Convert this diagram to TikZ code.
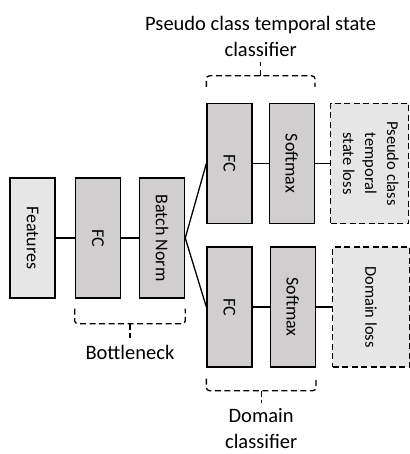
\documentclass[tikz,border=0pt]{standalone}
\usepackage{fontspec}
\setmainfont{Carlito}
\usetikzlibrary{positioning,calc}
\definecolor{boxgray}{HTML}{D0CECE}
\definecolor{lightgray}{HTML}{E7E6E6}
\tikzset{
    node distance=18pt, % gap between neighbouring boxes
    }

\begin{document}
\begin{tikzpicture}[x=1pt,y=-1pt,
layerbox/.style={rectangle, draw=black, line width=1.3pt, fill=boxgray, minimum width=45pt, minimum height=120pt, inner sep=0pt, font=\fontsize{18}{22}\selectfont},
inbox/.style={layerbox, fill=lightgray},
lossbox/.style={layerbox, fill=lightgray, dash pattern=on 6pt off 3.5pt, minimum width=78pt, font=\fontsize{16.5}{22}\selectfont},
brace/.style={line width=1.3pt, dash pattern=on 6pt off 3.5pt, rounded corners=3pt},
caption/.style={align=center, font=\fontsize{20.5}{26}\selectfont},
]
\useasboundingbox (0,0) rectangle (409,454);

\node[inbox] (feat) at (32.5,238) {\rotatebox{-90}{Features}};
\node[layerbox] (fc) [right=19pt of feat] {\rotatebox{-90}{FC}};
\node[layerbox] (bn) [right=of fc] {\rotatebox{-90}{Batch Norm}};

\node[layerbox] (fcT) at (229.5,163.5) {\rotatebox{-90}{FC}};
\node[layerbox] (smT) [right=16pt of fcT] {\rotatebox{-90}{Softmax}};
\node[lossbox] (lossT) [right=15pt of smT] {\rotatebox{-90}{\begin{tabular}{@{}c@{}}Pseudo class\\temporal\\state loss\end{tabular}}};

\node[layerbox] (fcB) at (229.5,307) {\rotatebox{-90}{FC}};
\node[layerbox] (smB) [right=17pt of fcB] {\rotatebox{-90}{Softmax}};
\node[lossbox, minimum width=77pt] (lossB) [right=16pt of smB] {\rotatebox{-90}{Domain loss}};

\draw[line width=1.3pt] (feat.east) -- (fc.west);
\draw[line width=1.3pt] (fc.east) -- (bn.west);
\draw[line width=1.3pt] (bn.east) -- (fcT.west);
\draw[line width=1.3pt] (bn.east) -- (fcB.west);
\draw[line width=1.3pt] (fcT.east) -- (smT.west);
\draw[line width=1.3pt] (smT.east) -- (lossT.west);
\draw[line width=1.3pt] (fcB.east) -- (smB.west);
\draw[line width=1.3pt] (smB.east) -- (lossB.west);

% braces
\coordinate (tA) at ($(fcT.north west)+(0,-16)$);
\coordinate (tB) at ($(smT.north east)+(0,-16)$);
\coordinate (tM) at ($(fcT.north west)!0.5!(smT.north east)+(0,-27)$);
\draw[brace] (tA) |- (tM) -| (tB);
\draw[brace] (tM) -- ++(0,-14) coordinate (tTip);
\node[caption] (capT) [above=2pt of tTip] {Pseudo class temporal state\\classifier};

\coordinate (bA) at ($(fc.south west)+(0,10)$);
\coordinate (bB) at ($(bn.south east)+(0,10)$);
\coordinate (bM) at ($(fc.south west)!0.5!(bn.south east)+(0,25)$);
\draw[brace] (bA) |- (bM) -| (bB);
\draw[brace] (bM) -- ++(0,14) coordinate (bTip);
\node[caption] (capB) [below=4pt of bTip] {Bottleneck};

\coordinate (dA) at ($(fcB.south west)+(0,11)$);
\coordinate (dB) at ($(smB.south east)+(0,11)$);
\coordinate (dM) at ($(fcB.south west)!0.5!(smB.south east)+(0,23)$);
\draw[brace] (dA) |- (dM) -| (dB);
\draw[brace] (dM) -- ++(0,12) coordinate (dTip);
\node[caption] (capD) [below=2pt of dTip] {Domain\\classifier};
\end{tikzpicture}
\end{document}
